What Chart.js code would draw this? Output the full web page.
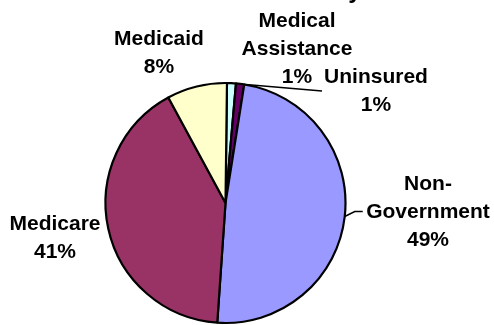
<!DOCTYPE html>
<html>
<head>
<meta charset="utf-8">
<script src="https://cdn.jsdelivr.net/npm/chart.js@4/dist/chart.umd.min.js"></script>
<style>
  html, body { margin: 0; padding: 0; background: #fff; }
  canvas { display: block; }
</style>
</head>
<body>
<canvas id="chartPagadores" width="494" height="325"></canvas>
<script>
// Dados do grafico
const categorias = ['Medical Assistance', 'Uninsured', 'Non-Government', 'Medicare', 'Medicaid'];
const linhasRotulo = [['Medical', 'Assistance'], ['Uninsured'], ['Non-', 'Government'], ['Medicare'], ['Medicaid']];
const participacao = [1.2, 1.1, 48.6, 41.0, 8.1];
const tituloTexto = 'Insurance Summary';

const cores = ['#CCFFFF', '#660066', '#9999FF', '#993366', '#FFFFCC'];
const FONTE = 'bold 21px "Liberation Sans", Arial, sans-serif';

// posicao dos rotulos (centro x, primeira linha de base)
const posRotulos = [
  { x: 297, y: 27 },
  { x: 376, y: 83 },
  { x: 428, y: 190 },
  { x: 55, y: 230 },
  { x: 159, y: 45 }
];

document.addEventListener('DOMContentLoaded', () => {
  criarGraficoPizza();
});

function pontoNoArco(arco, fracao, extra) {
  const ang = arco.startAngle + (arco.endAngle - arco.startAngle) * fracao;
  const r = arco.outerRadius + (extra || 0);
  return { x: arco.x + Math.cos(ang) * r, y: arco.y + Math.sin(ang) * r };
}

const pluginRotulos = {
  id: 'rotulos',
  afterDraw(chart) {
    const ctx = chart.ctx;
    const arcos = chart.getDatasetMeta(0).data;
    const total = participacao.reduce((a, b) => a + b, 0);

    ctx.save();
    // titulo (cortado no topo, como no original)
    ctx.fillStyle = '#000';
    ctx.font = 'bold 24px "Liberation Sans", Arial, sans-serif';
    ctx.textAlign = 'center';
    ctx.textBaseline = 'alphabetic';
    ctx.fillText(tituloTexto, 247, -2.5);

    // linhas de chamada
    ctx.strokeStyle = '#000';
    ctx.lineWidth = 1.5;
    const pU = pontoNoArco(arcos[1], 0.5);
    ctx.beginPath();
    ctx.moveTo(pU.x, pU.y);
    ctx.lineTo(322, 91);
    ctx.stroke();

    const pN = pontoNoArco(arcos[2], 0.5);
    ctx.beginPath();
    ctx.moveTo(pN.x, pN.y);
    ctx.lineTo(pN.x + 10, pN.y - 5);
    ctx.lineTo(pN.x + 18, pN.y - 5);
    ctx.stroke();

    // textos
    ctx.font = FONTE;
    linhasRotulo.forEach((linhas, i) => {
      const pct = Math.round(participacao[i] / total * 100) + '%';
      const todas = linhas.concat([pct]);
      todas.forEach((t, j) => {
        ctx.fillText(t, posRotulos[i].x, posRotulos[i].y + j * 28.2);
      });
    });
    ctx.restore();
  }
};

function criarGraficoPizza() {
  const ctx = document.getElementById('chartPagadores').getContext('2d');

  new Chart(ctx, {
    type: 'pie',
    data: {
      labels: categorias,
      datasets: [{
        data: participacao,
        backgroundColor: cores,
        borderColor: '#000',
        borderWidth: 2.2,
        hoverOffset: 0
      }]
    },
    options: {
      responsive: false,
      animation: false,
      events: [],
      rotation: 0.7,
      radius: 120,
      layout: {
        padding: { left: 0, right: 43, top: 81, bottom: 0 }
      },
      plugins: {
        legend: { display: false },
        title: { display: false },
        tooltip: { enabled: false }
      }
    },
    plugins: [pluginRotulos]
  });
}
</script>
</body>
</html>
